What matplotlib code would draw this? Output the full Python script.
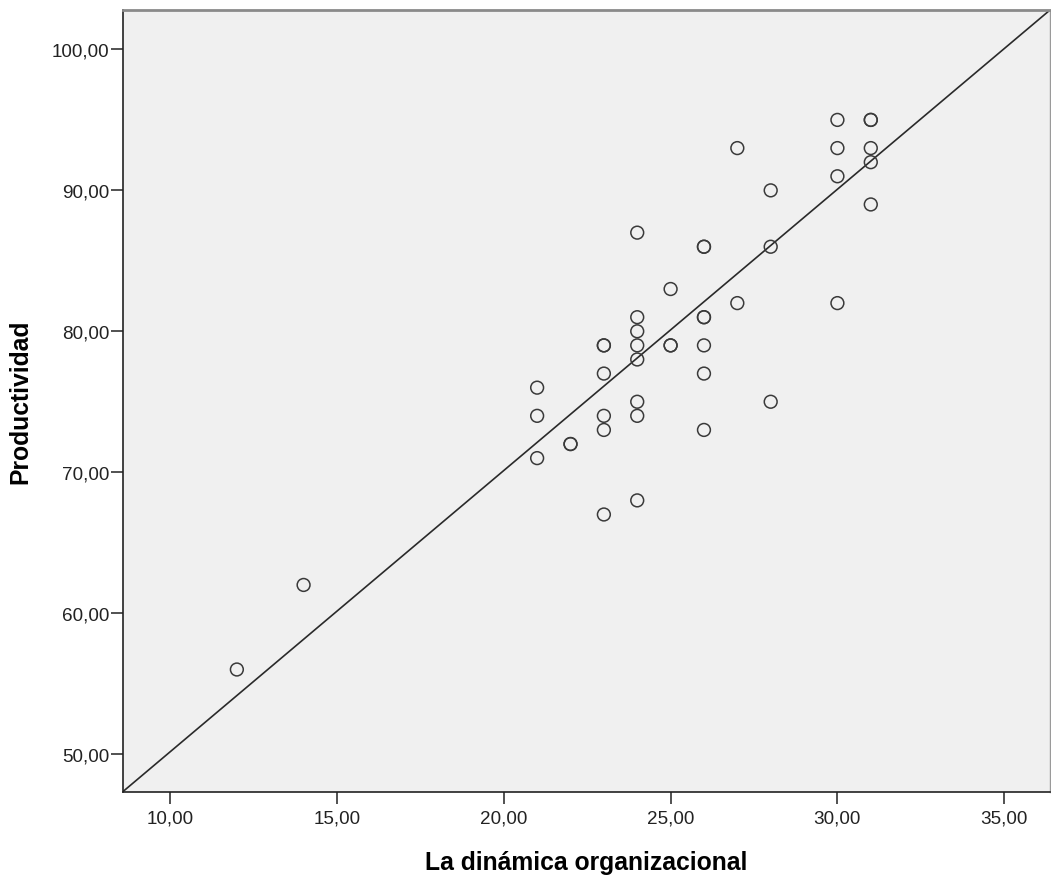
import matplotlib
matplotlib.use("Agg")
import matplotlib.pyplot as plt
import numpy as np

# Data (duplicates listed twice)
dinamica = [12, 14, 21, 21, 21, 22, 22, 23, 23, 23, 23, 23, 23,
            24, 24, 24, 24, 24, 24, 24, 24, 25, 25, 25,
            26, 26, 26, 26, 26, 26, 26, 27, 27, 28, 28, 28,
            30, 30, 30, 30, 31, 31, 31, 31, 31]
productividad = [56, 62, 76, 74, 71, 72, 72, 79, 79, 77, 74, 73, 67,
                 87, 81, 80, 79, 78, 75, 74, 68, 83, 79, 79,
                 86, 86, 81, 81, 79, 77, 73, 93, 82, 90, 86, 75,
                 95, 93, 91, 82, 95, 95, 93, 92, 89]

# Fit line
fit_intercept = 30.2
fit_slope = 1.996

x_ticks = [10, 15, 20, 25, 30, 35]
y_ticks = [50, 60, 70, 80, 90, 100]
x_label = "La dinámica organizacional"
y_label = "Productividad"

plt.rcParams['font.family'] = ['Liberation Sans', 'DejaVu Sans']

fig = plt.figure(figsize=(10.51, 8.79), dpi=100)
ax = fig.add_axes([0.1168, 0.0982, 0.999 - 0.1168, 0.9875 - 0.0982])
ax.set_facecolor('#f0f0f0')

xmin, xmax = 8.58, 36.37
ymin, ymax = 47.33, 102.8
ax.set_xlim(xmin, xmax)
ax.set_ylim(ymin, ymax)

xs = np.array([xmin, xmax])
ax.plot(xs, fit_intercept + fit_slope * xs, color='#2a2a2a', lw=1.2, zorder=2)

ax.scatter(dinamica, productividad, s=85, facecolors='none',
           edgecolors='#3a3a3a', linewidths=1.1, zorder=3)

ax.set_xticks(x_ticks)
ax.set_yticks(y_ticks)
ax.set_xticklabels([f"{v:.2f}".replace('.', ',') for v in x_ticks])
ax.set_yticklabels([f"{v:.2f}".replace('.', ',') for v in y_ticks])
ax.tick_params(axis='both', direction='out', length=8.5, width=1.1,
               color='#222222', labelsize=13.6, labelcolor='#222222')
ax.tick_params(axis='x', pad=4)
ax.tick_params(axis='y', pad=1)

for side in ['left', 'bottom']:
    ax.spines[side].set_color('#222222')
    ax.spines[side].set_linewidth(1.2)
ax.spines['top'].set_color('#8a8a8a')
ax.spines['top'].set_linewidth(2.0)
ax.spines['right'].set_color('#9a9a9a')
ax.spines['right'].set_linewidth(1.0)

ax.set_xlabel(x_label, fontsize=17.8, fontweight='bold', labelpad=17)
ax.set_ylabel(y_label, fontsize=17.8, fontweight='bold', labelpad=14)

fig.savefig('out.png', dpi=100)
